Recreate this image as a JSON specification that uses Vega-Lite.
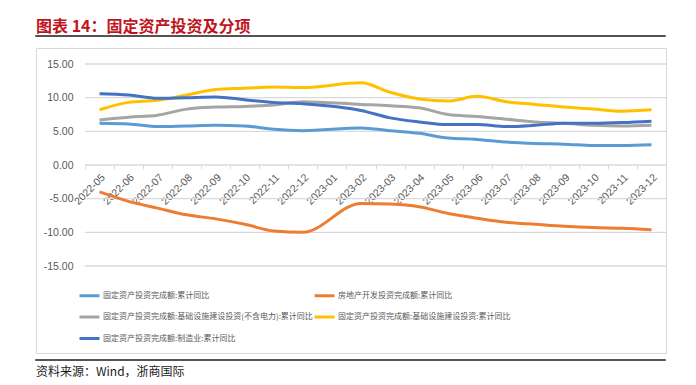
{
  "$schema": "https://vega.github.io/schema/vega-lite/v6.json",
  "autosize": {"type": "pad"},
  "padding": {"left": 35, "top": 17, "right": 0, "bottom": 0},
  "background": "#ffffff",
  "datasets": {
    "series": [
      {"month": "2022-05", "series": "固定资产投资完成额:累计同比", "value": 6.2},
      {"month": "2022-06", "series": "固定资产投资完成额:累计同比", "value": 6.1},
      {"month": "2022-07", "series": "固定资产投资完成额:累计同比", "value": 5.7},
      {"month": "2022-08", "series": "固定资产投资完成额:累计同比", "value": 5.8},
      {"month": "2022-09", "series": "固定资产投资完成额:累计同比", "value": 5.9},
      {"month": "2022-10", "series": "固定资产投资完成额:累计同比", "value": 5.8},
      {"month": "2022-11", "series": "固定资产投资完成额:累计同比", "value": 5.3},
      {"month": "2022-12", "series": "固定资产投资完成额:累计同比", "value": 5.1},
      {"month": "2023-02", "series": "固定资产投资完成额:累计同比", "value": 5.5},
      {"month": "2023-03", "series": "固定资产投资完成额:累计同比", "value": 5.1},
      {"month": "2023-04", "series": "固定资产投资完成额:累计同比", "value": 4.7},
      {"month": "2023-05", "series": "固定资产投资完成额:累计同比", "value": 4.0},
      {"month": "2023-06", "series": "固定资产投资完成额:累计同比", "value": 3.8},
      {"month": "2023-07", "series": "固定资产投资完成额:累计同比", "value": 3.4},
      {"month": "2023-08", "series": "固定资产投资完成额:累计同比", "value": 3.2},
      {"month": "2023-09", "series": "固定资产投资完成额:累计同比", "value": 3.1},
      {"month": "2023-10", "series": "固定资产投资完成额:累计同比", "value": 2.9},
      {"month": "2023-11", "series": "固定资产投资完成额:累计同比", "value": 2.9},
      {"month": "2023-12", "series": "固定资产投资完成额:累计同比", "value": 3.0},
      {"month": "2022-05", "series": "房地产开发投资完成额:累计同比", "value": -4.0},
      {"month": "2022-06", "series": "房地产开发投资完成额:累计同比", "value": -5.4},
      {"month": "2022-07", "series": "房地产开发投资完成额:累计同比", "value": -6.4},
      {"month": "2022-08", "series": "房地产开发投资完成额:累计同比", "value": -7.4},
      {"month": "2022-09", "series": "房地产开发投资完成额:累计同比", "value": -8.0},
      {"month": "2022-10", "series": "房地产开发投资完成额:累计同比", "value": -8.8},
      {"month": "2022-11", "series": "房地产开发投资完成额:累计同比", "value": -9.8},
      {"month": "2022-12", "series": "房地产开发投资完成额:累计同比", "value": -10.0},
      {"month": "2023-02", "series": "房地产开发投资完成额:累计同比", "value": -5.7},
      {"month": "2023-03", "series": "房地产开发投资完成额:累计同比", "value": -5.8},
      {"month": "2023-04", "series": "房地产开发投资完成额:累计同比", "value": -6.2},
      {"month": "2023-05", "series": "房地产开发投资完成额:累计同比", "value": -7.2},
      {"month": "2023-06", "series": "房地产开发投资完成额:累计同比", "value": -7.9},
      {"month": "2023-07", "series": "房地产开发投资完成额:累计同比", "value": -8.5},
      {"month": "2023-08", "series": "房地产开发投资完成额:累计同比", "value": -8.8},
      {"month": "2023-09", "series": "房地产开发投资完成额:累计同比", "value": -9.1},
      {"month": "2023-10", "series": "房地产开发投资完成额:累计同比", "value": -9.3},
      {"month": "2023-11", "series": "房地产开发投资完成额:累计同比", "value": -9.4},
      {"month": "2023-12", "series": "房地产开发投资完成额:累计同比", "value": -9.6},
      {"month": "2022-05", "series": "固定资产投资完成额:基础设施建设投资(不含电力):累计同比", "value": 6.7},
      {"month": "2022-06", "series": "固定资产投资完成额:基础设施建设投资(不含电力):累计同比", "value": 7.1},
      {"month": "2022-07", "series": "固定资产投资完成额:基础设施建设投资(不含电力):累计同比", "value": 7.4},
      {"month": "2022-08", "series": "固定资产投资完成额:基础设施建设投资(不含电力):累计同比", "value": 8.3},
      {"month": "2022-09", "series": "固定资产投资完成额:基础设施建设投资(不含电力):累计同比", "value": 8.6},
      {"month": "2022-10", "series": "固定资产投资完成额:基础设施建设投资(不含电力):累计同比", "value": 8.7},
      {"month": "2022-11", "series": "固定资产投资完成额:基础设施建设投资(不含电力):累计同比", "value": 8.9},
      {"month": "2022-12", "series": "固定资产投资完成额:基础设施建设投资(不含电力):累计同比", "value": 9.4},
      {"month": "2023-02", "series": "固定资产投资完成额:基础设施建设投资(不含电力):累计同比", "value": 9.0},
      {"month": "2023-03", "series": "固定资产投资完成额:基础设施建设投资(不含电力):累计同比", "value": 8.8},
      {"month": "2023-04", "series": "固定资产投资完成额:基础设施建设投资(不含电力):累计同比", "value": 8.5},
      {"month": "2023-05", "series": "固定资产投资完成额:基础设施建设投资(不含电力):累计同比", "value": 7.5},
      {"month": "2023-06", "series": "固定资产投资完成额:基础设施建设投资(不含电力):累计同比", "value": 7.2},
      {"month": "2023-07", "series": "固定资产投资完成额:基础设施建设投资(不含电力):累计同比", "value": 6.8},
      {"month": "2023-08", "series": "固定资产投资完成额:基础设施建设投资(不含电力):累计同比", "value": 6.4},
      {"month": "2023-09", "series": "固定资产投资完成额:基础设施建设投资(不含电力):累计同比", "value": 6.2},
      {"month": "2023-10", "series": "固定资产投资完成额:基础设施建设投资(不含电力):累计同比", "value": 5.9},
      {"month": "2023-11", "series": "固定资产投资完成额:基础设施建设投资(不含电力):累计同比", "value": 5.8},
      {"month": "2023-12", "series": "固定资产投资完成额:基础设施建设投资(不含电力):累计同比", "value": 5.9},
      {"month": "2022-05", "series": "固定资产投资完成额:基础设施建设投资:累计同比", "value": 8.2},
      {"month": "2022-06", "series": "固定资产投资完成额:基础设施建设投资:累计同比", "value": 9.3},
      {"month": "2022-07", "series": "固定资产投资完成额:基础设施建设投资:累计同比", "value": 9.6},
      {"month": "2022-08", "series": "固定资产投资完成额:基础设施建设投资:累计同比", "value": 10.4},
      {"month": "2022-09", "series": "固定资产投资完成额:基础设施建设投资:累计同比", "value": 11.2},
      {"month": "2022-10", "series": "固定资产投资完成额:基础设施建设投资:累计同比", "value": 11.4},
      {"month": "2022-11", "series": "固定资产投资完成额:基础设施建设投资:累计同比", "value": 11.6},
      {"month": "2022-12", "series": "固定资产投资完成额:基础设施建设投资:累计同比", "value": 11.5},
      {"month": "2023-02", "series": "固定资产投资完成额:基础设施建设投资:累计同比", "value": 12.2},
      {"month": "2023-03", "series": "固定资产投资完成额:基础设施建设投资:累计同比", "value": 10.8},
      {"month": "2023-04", "series": "固定资产投资完成额:基础设施建设投资:累计同比", "value": 9.8},
      {"month": "2023-05", "series": "固定资产投资完成额:基础设施建设投资:累计同比", "value": 9.5},
      {"month": "2023-06", "series": "固定资产投资完成额:基础设施建设投资:累计同比", "value": 10.2},
      {"month": "2023-07", "series": "固定资产投资完成额:基础设施建设投资:累计同比", "value": 9.4},
      {"month": "2023-08", "series": "固定资产投资完成额:基础设施建设投资:累计同比", "value": 9.0},
      {"month": "2023-09", "series": "固定资产投资完成额:基础设施建设投资:累计同比", "value": 8.6},
      {"month": "2023-10", "series": "固定资产投资完成额:基础设施建设投资:累计同比", "value": 8.3},
      {"month": "2023-11", "series": "固定资产投资完成额:基础设施建设投资:累计同比", "value": 8.0},
      {"month": "2023-12", "series": "固定资产投资完成额:基础设施建设投资:累计同比", "value": 8.2},
      {"month": "2022-05", "series": "固定资产投资完成额:制造业:累计同比", "value": 10.6},
      {"month": "2022-06", "series": "固定资产投资完成额:制造业:累计同比", "value": 10.4},
      {"month": "2022-07", "series": "固定资产投资完成额:制造业:累计同比", "value": 9.9},
      {"month": "2022-08", "series": "固定资产投资完成额:制造业:累计同比", "value": 10.0},
      {"month": "2022-09", "series": "固定资产投资完成额:制造业:累计同比", "value": 10.1},
      {"month": "2022-10", "series": "固定资产投资完成额:制造业:累计同比", "value": 9.7},
      {"month": "2022-11", "series": "固定资产投资完成额:制造业:累计同比", "value": 9.3},
      {"month": "2022-12", "series": "固定资产投资完成额:制造业:累计同比", "value": 9.1},
      {"month": "2023-02", "series": "固定资产投资完成额:制造业:累计同比", "value": 8.1},
      {"month": "2023-03", "series": "固定资产投资完成额:制造业:累计同比", "value": 7.0},
      {"month": "2023-04", "series": "固定资产投资完成额:制造业:累计同比", "value": 6.4},
      {"month": "2023-05", "series": "固定资产投资完成额:制造业:累计同比", "value": 6.0},
      {"month": "2023-06", "series": "固定资产投资完成额:制造业:累计同比", "value": 6.0},
      {"month": "2023-07", "series": "固定资产投资完成额:制造业:累计同比", "value": 5.7},
      {"month": "2023-08", "series": "固定资产投资完成额:制造业:累计同比", "value": 5.9},
      {"month": "2023-09", "series": "固定资产投资完成额:制造业:累计同比", "value": 6.2},
      {"month": "2023-10", "series": "固定资产投资完成额:制造业:累计同比", "value": 6.2},
      {"month": "2023-11", "series": "固定资产投资完成额:制造业:累计同比", "value": 6.3},
      {"month": "2023-12", "series": "固定资产投资完成额:制造业:累计同比", "value": 6.5}
    ]
  },
  "spacing": 5,
  "vconcat": [
    {
      "spacing": 10,
      "vconcat": [
        {
          "title": {"text": "图表 14：固定资产投资及分项", "anchor": "start", "color": "#C0141C", "font": "Noto Sans CJK SC", "fontSize": 16, "fontWeight": "bold", "offset": 1.5, "baseline": "top"},
          "width": 629,
          "height": 0.01,
          "view": {"stroke": "#1a1a1a", "strokeWidth": 1.5},
          "data": {"values": []},
          "mark": {"type": "text"},
          "encoding": {"text": {"value": ""}}
        },
        {
          "width": 630,
          "height": 305,
          "view": {"stroke": "#D9D9D9", "strokeWidth": 1},
          "encoding": {
            "x": {
              "field": "month", "type": "ordinal",
              "scale": {"type": "band", "range": [49, 630], "paddingInner": 0, "paddingOuter": 0,
                "domain": ["2022-05","2022-06","2022-07","2022-08","2022-09","2022-10","2022-11","2022-12","2023-01","2023-02","2023-03","2023-04","2023-05","2023-06","2023-07","2023-08","2023-09","2023-10","2023-11","2023-12"]},
              "axis": {"title": null, "orient": "bottom", "offset": -188, "domain": false, "grid": false, "ticks": true, "tickBand": "extent", "tickSize": 4, "tickColor": "#D9D9D9", "labelAngle": -45, "labelPadding": 3, "labelColor": "#595959", "labelFont": "Liberation Sans", "labelFontSize": 10.5}
            },
            "y": {
              "field": "value", "type": "quantitative",
              "scale": {"domain": [-15, 15], "range": [218, 16], "nice": false, "zero": false},
              "axis": {"title": null, "values": [-15, -10, -5, 0, 5, 10, 15], "grid": false, "domain": false, "ticks": false, "tickSize": 0, "offset": -40, "labelPadding": 3, "labelColor": "#595959", "labelFont": "Liberation Sans", "labelFontSize": 10.5, "labelExpr": "replace(format(datum.value, '.2f'), '−', '-')"}
            }
          },
          "layer": [
            {
              "data": {"values": [{"value": -15}, {"value": -10}, {"value": -5}, {"value": 0}, {"value": 5}, {"value": 10}, {"value": 15}]},
              "mark": {"type": "rule", "color": "#D9D9D9", "strokeWidth": 1.3},
              "encoding": {
                "x": {"datum": "2022-05", "type": "ordinal", "bandPosition": 0},
                "x2": {"datum": "2023-12", "bandPosition": 1},
                "y": {"field": "value", "type": "quantitative"}
              }
            },
            {
              "data": {"name": "series"},
              "mark": {"type": "line", "strokeWidth": 3, "interpolate": "monotone"},
              "encoding": {
                "color": {
                  "field": "series", "type": "nominal",
                  "scale": {
                    "domain": ["固定资产投资完成额:累计同比", "固定资产投资完成额:基础设施建设投资(不含电力):累计同比", "固定资产投资完成额:制造业:累计同比", "房地产开发投资完成额:累计同比", "固定资产投资完成额:基础设施建设投资:累计同比"],
                    "range": ["#5B9BD5", "#A5A5A5", "#4472C4", "#ED7D31", "#FFC000"]
                  },
                  "legend": {"title": null, "orient": "none", "legendX": 42, "legendY": 248, "columns": 2, "symbolType": "stroke", "symbolStrokeWidth": 3, "symbolSize": 400, "labelOffset": 2, "labelFont": "Noto Sans CJK SC", "labelFontSize": 8, "labelColor": "#595959", "labelLimit": 400, "columnPadding": -7, "rowPadding": 3.5, "padding": 0}
                }
              }
            }
          ]
        }
      ]
    },
    {
      "title": {"text": "资料来源：Wind，浙商国际", "orient": "bottom", "anchor": "start", "color": "#1a1a1a", "font": "Noto Sans CJK SC", "fontSize": 12, "fontWeight": "normal", "offset": 7, "baseline": "top"},
      "width": 629,
      "height": 0.01,
      "view": {"stroke": "#1a1a1a", "strokeWidth": 1.5},
      "data": {"values": []},
      "mark": {"type": "text"},
      "encoding": {"text": {"value": ""}}
    }
  ]
}
